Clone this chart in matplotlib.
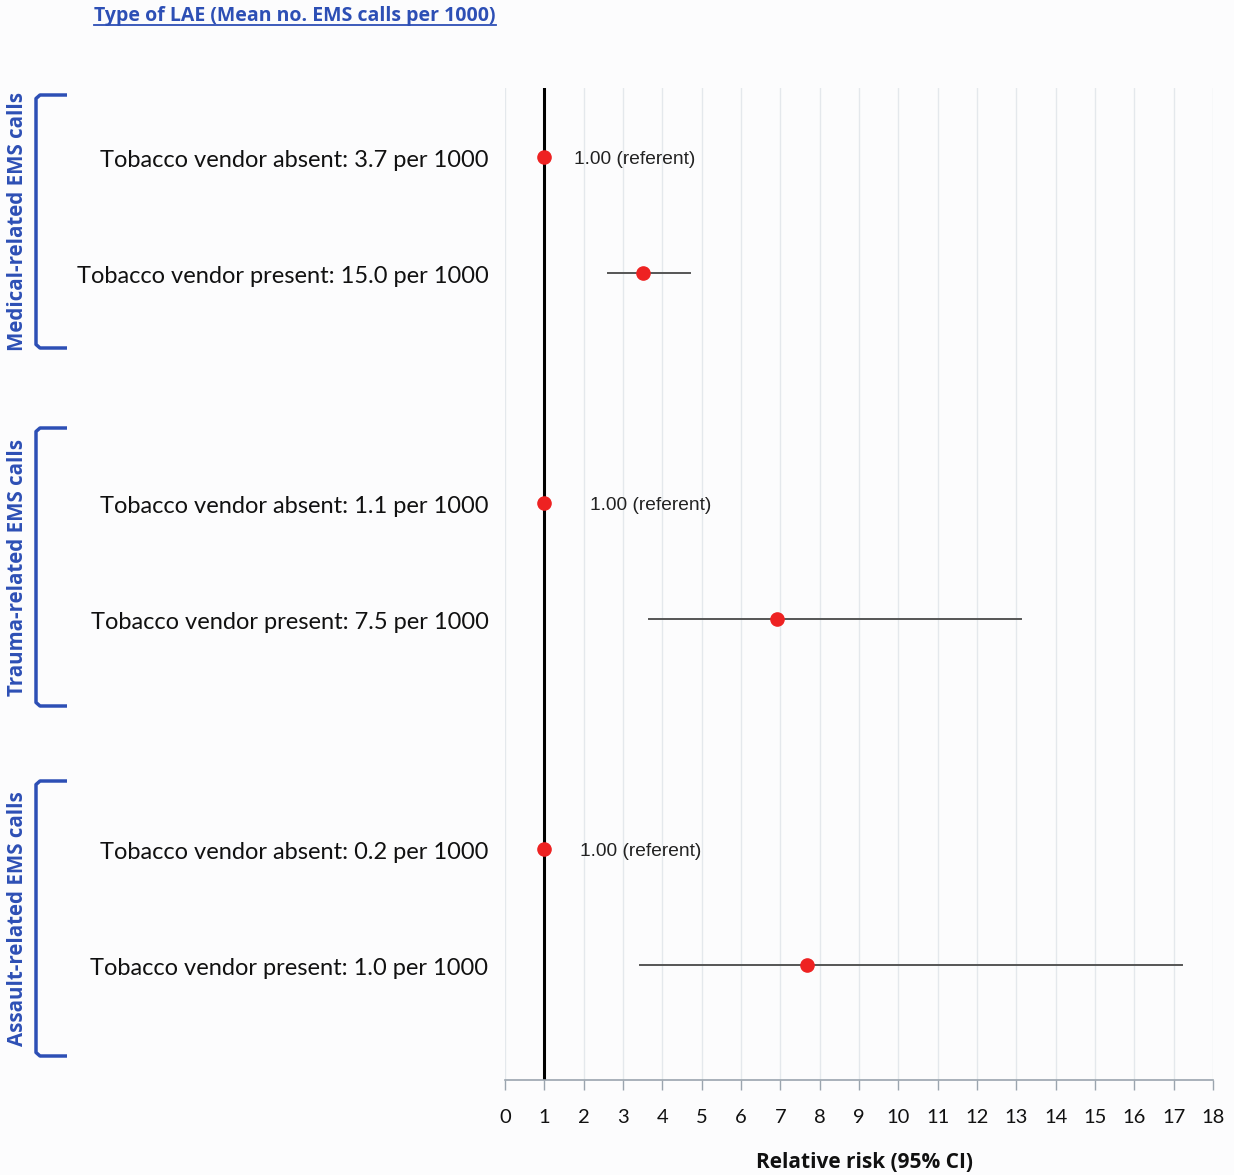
import numpy as np
import matplotlib
matplotlib.use("Agg")
import matplotlib.pyplot as plt
from matplotlib.lines import Line2D

# data
row_labels = [
    "Tobacco vendor absent: 3.7 per 1000",
    "Tobacco vendor present: 15.0 per 1000",
    "Tobacco vendor absent: 1.1 per 1000",
    "Tobacco vendor present: 7.5 per 1000",
    "Tobacco vendor absent: 0.2 per 1000",
    "Tobacco vendor present: 1.0 per 1000",
]
rr = [1.0, 3.51, 1.0, 6.92, 1.0, 7.68]
ci_low = [np.nan, 2.62, np.nan, 3.66, np.nan, 3.43]
ci_high = [np.nan, 4.70, np.nan, 13.12, np.nan, 17.21]
ref_text_x = [1.75, np.nan, 2.16, np.nan, 1.91, np.nan]
group_names = ["Medical-related EMS calls", "Trauma-related EMS calls", "Assault-related EMS calls"]
row_pos = [0, 1, 3, 4, 6, 7]
xticks = list(range(0, 19))

BLUE = "#2D4FB5"
BG = "#FCFCFD"
BOLD = ["Open Sans", "DejaVu Sans"]
plt.rcParams["font.family"] = ["Lato", "DejaVu Sans"]

fig = plt.figure(figsize=(12.34, 11.75), dpi=100, facecolor=BG)
ax = fig.add_axes([505/1234, 1 - 1080/1175, (1213-505)/1234, (1080-88)/1175], facecolor=BG)
ax.set_xlim(0, 18)
ax.set_ylim(8.0, -0.6)

for t in xticks:
    ax.axvline(t, color="#E4E8EC", lw=1, zorder=0)
ax.axvline(1, color="black", lw=2.2, zorder=2)

for y, m, lo, hi, tx in zip(row_pos, rr, ci_low, ci_high, ref_text_x):
    if not np.isnan(lo):
        ax.plot([lo, hi], [y, y], color="#555555", lw=1.4, zorder=3)
    else:
        ax.text(tx, y + 0.02, "1.00 (referent)", family="Liberation Sans", fontsize=13.8,
                color="#222222", va="center", ha="left")
    ax.plot(m, y, "o", color="#EE2222", markersize=9.5, zorder=4, mec="#EE2222")

for y, lab in zip(row_pos, row_labels):
    ax.text(-0.42, y + 0.03, lab, fontsize=17, ha="right", va="center", color="#111111")

for s in ["top", "right", "left"]:
    ax.spines[s].set_visible(False)
ax.spines["bottom"].set_color("#9AA4AE")
ax.spines["bottom"].set_linewidth(1.2)
ax.set_yticks([])
ax.set_xticks(xticks)
ax.tick_params(axis="x", colors="#9AA4AE", length=7, width=1, labelcolor="#111111",
               labelsize=14.5, pad=14)
fig.text(864/1234, 1 - 1162/1175, "Relative risk (95% CI)", family=BOLD, fontsize=15,
         fontweight="bold", color="#111111", ha="center", va="center")

# title, underlined
title = fig.text(94/1234, 1 - 16/1175, "Type of LAE (Mean no. EMS calls per 1000)",
                 family=BOLD, fontsize=14, fontweight="bold", color=BLUE, ha="left", va="center")
fig.canvas.draw()
bb = title.get_window_extent().transformed(fig.transFigure.inverted())
fig.add_artist(Line2D([bb.x0, bb.x1], [bb.y0 + 0.001, bb.y0 + 0.001], color=BLUE, lw=1.3,
                      transform=fig.transFigure))

# group brackets and labels
brackets = [(95, 348), (428, 706), (781, 1056)]
for (top, bot), name in zip(brackets, group_names):
    y0 = 1 - top/1175
    y1 = 1 - bot/1175
    xs = [67/1234, 40/1234, 36/1234, 36/1234, 40/1234, 67/1234]
    ys = [y0, y0, y0 - 0.003, y1 + 0.003, y1, y1]
    fig.add_artist(Line2D(xs, ys, color=BLUE, lw=2.5, transform=fig.transFigure,
                          solid_joinstyle="round", solid_capstyle="butt"))
    fig.text(18/1234, (y0 + y1) / 2, name, rotation=90, family=BOLD, fontsize=14.8,
             fontweight="bold", color=BLUE, ha="center", va="center")

fig.savefig("out.png", dpi=100, facecolor=BG)
